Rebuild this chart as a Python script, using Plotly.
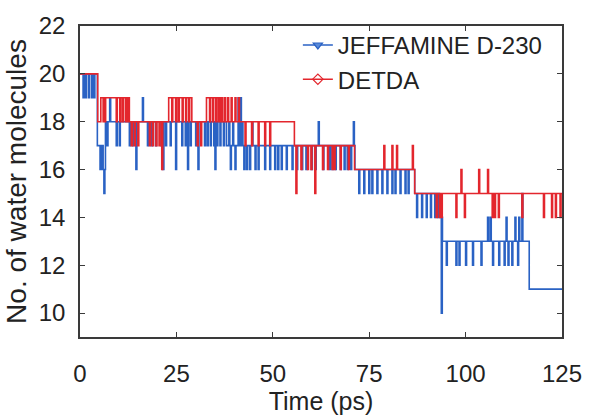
import plotly.graph_objects as go

# Step levels (time in ps, number of water molecules) at which the plateau changes
jeff_base_t = [0, 4.5, 5.2, 5.6, 6.0, 6.6, 38.0, 71.3, 86.8, 93.2, 94.0, 116.5]
jeff_base_n = [20, 17, 16, 17, 16, 18, 17, 16, 15, 14, 13, 11]

# Short-lived fluctuations away from the plateau (time, count)
jeff_spike_t = [
    0.8, 1.4, 2.2, 3.0, 3.6,
    6.2, 7.7,
    7.0, 9.4, 10.2, 12.8, 13.6, 17.5, 18.5, 19.6, 21.0, 22.2, 23.4, 26.4, 27.3, 28.6,
    30.0, 32.3, 33.0, 33.8, 34.7, 35.5, 36.3, 37.2,
    14.5, 21.5, 24.8, 27.9, 30.6, 35.0, 16.2,
    39.0, 40.2, 42.5, 43.2, 44.0, 45.4, 46.2, 47.9, 49.2, 50.5, 51.3, 52.2, 53.5, 55.0,
    56.2, 57.5, 58.6, 60.0, 61.0, 63.0, 64.7, 65.4, 66.2, 67.5, 68.5, 69.3, 70.2,
    38.6, 39.6, 42.0, 44.6, 61.8, 70.9, 41.0, 41.6,
    72.3, 73.6, 74.9, 75.7, 77.0, 78.3, 79.6, 80.9, 81.7, 83.0, 84.3, 85.1,
    87.3, 88.6, 89.8, 90.9, 92.0, 92.8,
    93.7,
    95.0, 97.5, 98.3, 100.0, 101.8, 104.0, 107.0, 108.6, 110.0, 111.0, 112.0, 113.5,
    105.7, 106.4, 110.5, 112.8, 113.8, 114.6,
]
jeff_spike_n = [
    19, 19, 19, 19, 19,
    15, 19,
    17, 17, 17, 17, 17, 17, 17, 17, 17, 17, 17, 17, 17, 17,
    17, 17, 17, 17, 17, 17, 17, 17,
    16, 16, 16, 16, 16, 16, 19,
    16, 16, 16, 16, 16, 16, 16, 16, 16, 16, 16, 16, 16, 16,
    16, 16, 16, 16, 16, 16, 16, 16, 16, 16, 16, 16, 16,
    18, 18, 18, 18, 18, 18, 19, 19,
    15, 15, 15, 15, 15, 15, 15, 15, 15, 15, 15, 15,
    14, 14, 14, 14, 14, 14,
    10,
    12, 12, 12, 12, 12, 12, 12, 12, 12, 12, 12, 12,
    14, 14, 14, 14, 14, 15,
]

detda_base_t = [0, 4.6, 5.4, 12.8, 23.0, 29.0, 32.8, 37.0, 55.6, 71.2, 86.8]
detda_base_n = [20, 18, 19, 18, 19, 18, 19, 18, 17, 16, 15]

detda_spike_t = [
    6.0, 6.4, 9.4, 10.3, 11.0, 11.8, 12.4,
    13.3, 14.1, 15.0, 18.0, 18.8, 19.7, 20.5, 21.2,
    23.8, 24.8, 25.5, 26.5, 27.4, 28.2,
    30.4, 31.3,
    33.6, 34.4, 35.2, 35.9, 36.5,
    37.5, 38.3, 39.2, 40.2, 41.1,
    42.8, 44.5, 46.2, 47.9, 49.2,
    56.0, 60.9,
    57.3, 59.0, 59.9, 62.9, 64.2, 65.4, 65.9, 67.5, 69.6,
    78.8, 80.9, 82.1, 86.2,
    98.8, 103.4, 105.7,
    92.4, 93.2, 93.7, 97.5, 99.7, 106.9, 107.5, 108.5, 114.6, 120.2, 122.3, 123.3, 124.5,
]
detda_spike_n = [
    18, 18, 18, 18, 18, 18, 18,
    17, 17, 17, 17, 17, 17, 17, 16,
    18, 18, 18, 18, 18, 18,
    17, 17,
    18, 18, 18, 18, 18,
    19, 19, 19, 19, 19,
    17, 17, 17, 17, 17,
    15, 15,
    16, 16, 16, 16, 16, 16, 16, 16, 16,
    17, 17, 17, 17,
    16, 16, 16,
    14, 14, 14, 14, 14, 14, 14, 14, 14, 14, 14, 14, 14,
]

T_END = 125.0
SPIKE_W = 0.25  # duration of a single-frame fluctuation, ps


def plateau(base_t, base_n, t):
    level = base_n[0]
    for bt, bn in zip(base_t, base_n):
        if bt <= t:
            level = bn
    return level


def step_series(base_t, base_n, spike_t, spike_n):
    """Merge plateaus and one-frame fluctuations into a step trace."""
    events = [(bt, 1, bn) for bt, bn in zip(base_t, base_n)]
    for st, sn in zip(spike_t, spike_n):
        events.append((st, 2, sn))
        back = st + SPIKE_W
        events.append((back, 0, plateau(base_t, base_n, back)))
    events.sort(key=lambda e: (e[0], e[1]))
    xs = [e[0] for e in events] + [T_END]
    ys = [e[2] for e in events] + [plateau(base_t, base_n, T_END)]
    return xs, ys


BLUE = "#2a62c4"
RED = "#e3262d"

jx, jy = step_series(jeff_base_t, jeff_base_n, jeff_spike_t, jeff_spike_n)
dx, dy = step_series(detda_base_t, detda_base_n, detda_spike_t, detda_spike_n)

fig = go.Figure()
fig.add_trace(go.Scatter(x=jx, y=jy, mode="lines", line=dict(color=BLUE, width=1.6, shape="hv"),
                         showlegend=False, hoverinfo="skip"))
fig.add_trace(go.Scatter(x=dx, y=dy, mode="lines", line=dict(color=RED, width=1.6, shape="hv"),
                         showlegend=False, hoverinfo="skip"))
# legend entries with the series markers
fig.add_trace(go.Scatter(x=[None], y=[None], mode="lines+markers", name="JEFFAMINE D-230",
                         line=dict(color=BLUE, width=1.6),
                         marker=dict(symbol="triangle-down", size=8, color="#5a8ad8",
                                     line=dict(color=BLUE, width=1.2))))
fig.add_trace(go.Scatter(x=[None], y=[None], mode="lines+markers", name="DETDA",
                         line=dict(color=RED, width=1.6),
                         marker=dict(symbol="diamond-open", size=8, color=RED,
                                     line=dict(color=RED, width=1.2))))

FONT = "Liberation Sans, Arial, sans-serif"
axis_common = dict(
    showline=True, linecolor="#3a3a3a", linewidth=1.6, mirror="ticks",
    ticks="inside", ticklen=5, tickwidth=1.4, tickcolor="#3a3a3a",
    showgrid=False, zeroline=False,
    tickfont=dict(family=FONT, size=24, color="#222"),
)

fig.update_layout(
    width=594, height=420,
    margin=dict(l=80, r=27, t=18, b=79),
    paper_bgcolor="white", plot_bgcolor="white",
    font=dict(family=FONT, color="#222"),
    xaxis=dict(range=[0, 125], tickvals=[0, 25, 50, 75, 100, 125], ticklabelstandoff=14,
               title=dict(text="Time (ps)", font=dict(family=FONT, size=25, color="#222"), standoff=4),
               **axis_common),
    yaxis=dict(range=[9, 22], tickvals=[10, 12, 14, 16, 18, 20, 22], ticklabelstandoff=8,
               title=dict(text="No. of water molecules", font=dict(family=FONT, size=28, color="#222"),
                          standoff=4),
               **axis_common),
    legend=dict(x=0.452, y=1.01, xanchor="left", yanchor="top", bgcolor="rgba(0,0,0,0)",
                font=dict(family=FONT, size=24, color="#222"), tracegroupgap=0,
                itemwidth=30),
    showlegend=True,
)

fig.write_html("out.html")
